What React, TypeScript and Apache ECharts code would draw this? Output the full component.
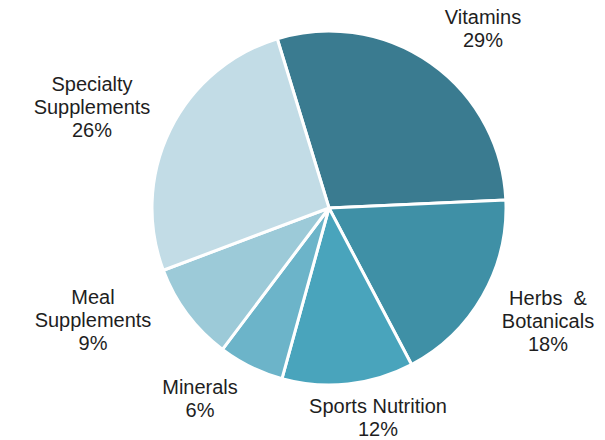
import React, { useEffect, useRef } from "react";
import * as echarts from "echarts";

const categories = ["Vitamins", "Herbs  &\nBotanicals", "Sports Nutrition", "Minerals", "Meal\nSupplements", "Specialty\nSupplements"];
const shares = [29, 18, 12, 6, 9, 26];
const colors = ["#3a7b90", "#3f90a6", "#49a4bc", "#6cb4c9", "#9ccad8", "#c2dce6"];
const labelPos: [number, number][] = [
  [483, 28],
  [548, 321],
  [378, 417],
  [200, 398],
  [93, 320],
  [92, 107],
];

export default function App() {
  const ref = useRef<HTMLDivElement>(null);
  useEffect(() => {
    document.body.style.margin = "0";
    const chart = echarts.init(ref.current!, null, { renderer: "svg" });
    chart.setOption({
      animation: false,
      backgroundColor: "#ffffff",
      series: [
        {
          type: "pie",
          center: [329, 208],
          radius: 177,
          startAngle: 107,
          clockwise: true,
          itemStyle: { borderColor: "#ffffff", borderWidth: 3 },
          label: {
            show: true,
            position: "outside",
            formatter: (p: any) => `${p.name}\n${p.value}%`,
            fontFamily: "Liberation Sans, Arial, sans-serif",
            fontSize: 20,
            lineHeight: 23,
            color: "#1e1e1e",
            overflow: "none",
          },
          labelLine: { show: false },
          labelLayout: (params: any) => {
            const pos = labelPos[params.dataIndex];
            return { x: pos[0], y: pos[1], align: "center", verticalAlign: "middle" };
          },
          emphasis: { disabled: true },
          data: categories.map((c, i) => ({
            name: c,
            value: shares[i],
            itemStyle: { color: colors[i] },
          })),
        },
      ],
    });
    return () => chart.dispose();
  }, []);
  return <div ref={ref} style={{ width: 605, height: 440 }} />;
}
